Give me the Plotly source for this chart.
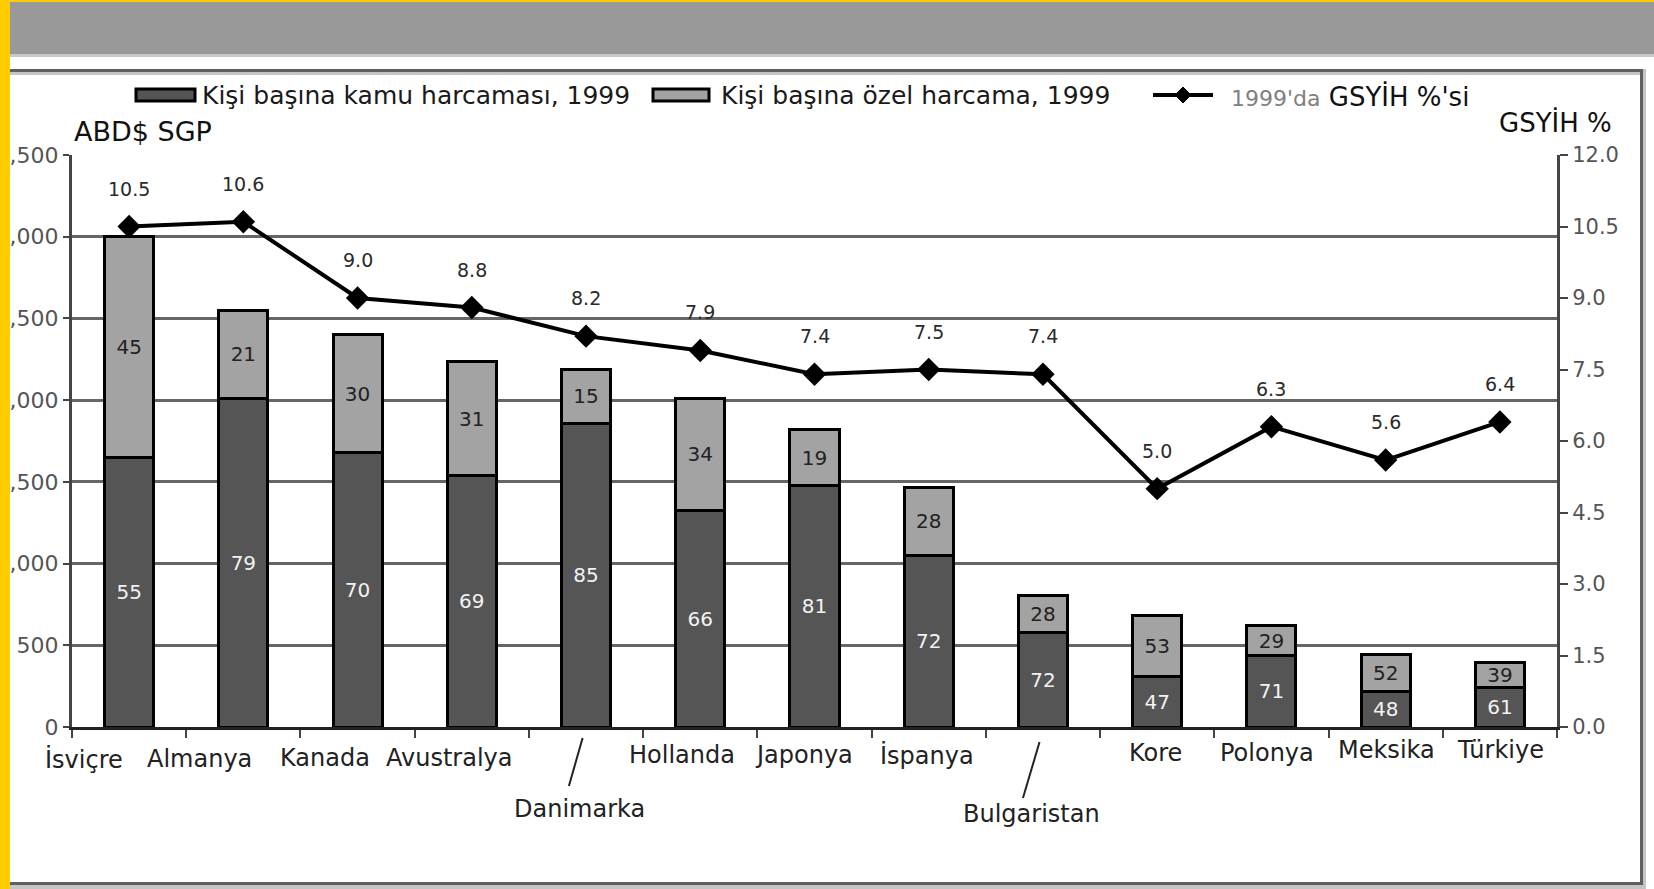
import plotly.graph_objects as go

# ---------------- data ----------------
countries = ["İsviçre", "Almanya", "Kanada", "Avustralya", "Danimarka", "Hollanda",
             "Japonya", "İspanya", "Bulgaristan", "Kore", "Polonya", "Meksika", "Türkiye"]
public_usd = [1650, 2010, 1680, 1540, 1860, 1325, 1475, 1050, 580, 310, 435, 215, 240]
private_usd = [1350, 540, 720, 695, 330, 685, 345, 415, 225, 375, 185, 230, 155]
public_share = [55, 79, 70, 69, 85, 66, 81, 72, 72, 47, 71, 48, 61]
private_share = [45, 21, 30, 31, 15, 34, 19, 28, 28, 53, 29, 52, 39]
gdp_share = [10.5, 10.6, 9.0, 8.8, 8.2, 7.9, 7.4, 7.5, 7.4, 5.0, 6.3, 5.6, 6.4]

left_ticks = [0, 500, 1000, 1500, 2000, 2500, 3000, 3500]
right_ticks = [0.0, 1.5, 3.0, 4.5, 6.0, 7.5, 9.0, 10.5, 12.0]

name_public = "Kişi başına kamu harcaması, 1999"
name_private = "Kişi başına özel harcama, 1999"
name_gdp = "1999'da GSYİH %'si"

# ---------------- styles / layout helpers ----------------
W, H = 1654, 889
L, R, T, B = 72, 97, 155, 162
PW, PH = W - L - R, H - T - B
FONT = "DejaVu Sans"


def px_x(px):
    return (px - L) / PW


def px_y(py):
    return (H - B - py) / PH


label_xshift = [-45, -44, -33, -22, -7, -18, -11, -2, -11, -2, -4, 1, 1]
label_yshift = [-32, -32, -31, -31, -82, -28, -28, -28, -87, -26, -26, -23, -23]

fig = go.Figure()

fig.add_trace(go.Bar(
    x=countries, y=public_usd, name=name_public,
    marker=dict(color="#555555", line=dict(color="#000000", width=3)),
    text=[str(v) for v in public_share], textposition="inside",
    insidetextanchor="middle", textangle=0,
    textfont=dict(family=FONT, size=20, color="#f2f2f2"),
    width=0.43, showlegend=False,
))
fig.add_trace(go.Bar(
    x=countries, y=private_usd, name=name_private,
    marker=dict(color="#a3a3a3", line=dict(color="#000000", width=3)),
    text=[str(v) for v in private_share], textposition="inside",
    insidetextanchor="middle", textangle=0,
    textfont=dict(family=FONT, size=20, color="#222222"),
    width=0.43, showlegend=False,
))
fig.add_trace(go.Scatter(
    x=countries, y=gdp_share, name=name_gdp, yaxis="y2",
    mode="lines+markers",
    line=dict(color="#000000", width=4),
    marker=dict(symbol="diamond", size=18, color="#000000"),
    showlegend=False,
))

annotations = []
# GDP value labels
for c, v in zip(countries, gdp_share):
    annotations.append(dict(x=c, y=v, xref="x", yref="y2", yshift=38,
                            text=f"{v:.1f}", showarrow=False,
                            font=dict(family=FONT, size=19, color="#2a2a2a")))
# category labels
for c, dx, dy in zip(countries, label_xshift, label_yshift):
    annotations.append(dict(x=c, y=0, xref="x", yref="paper", xshift=dx, yshift=dy,
                            yanchor="middle", text=c, showarrow=False,
                            font=dict(family=FONT, size=24, color="#222222")))
# axis titles
annotations.append(dict(x=px_x(72), y=px_y(131), xref="paper", yref="paper",
                        xanchor="left", yanchor="middle", text="ABD$ SGP", showarrow=False,
                        font=dict(family=FONT, size=27, color="#111111")))
annotations.append(dict(x=px_x(1614), y=px_y(123), xref="paper", yref="paper",
                        xanchor="right", yanchor="middle", text="GSYİH %", showarrow=False,
                        font=dict(family=FONT, size=26, color="#111111")))
# legend texts
annotations.append(dict(x=px_x(200), y=px_y(95), xref="paper", yref="paper",
                        xanchor="left", yanchor="middle", text=name_public, showarrow=False,
                        font=dict(family=FONT, size=25, color="#1a1a1a")))
annotations.append(dict(x=px_x(719), y=px_y(95), xref="paper", yref="paper",
                        xanchor="left", yanchor="middle", text=name_private, showarrow=False,
                        font=dict(family=FONT, size=25, color="#1a1a1a")))
annotations.append(dict(x=px_x(1229), y=px_y(97), xref="paper", yref="paper",
                        xanchor="left", yanchor="middle",
                        text="<span style='color:#808080;font-size:22px'>1999'da</span> GSYİH %'si",
                        showarrow=False,
                        font=dict(family=FONT, size=26, color="#111111")))

shapes = []


def rect(x0, y0, x1, y1, fill, layer="above", line_color=None, lw=0):
    shapes.append(dict(type="rect", xref="paper", yref="paper",
                       x0=px_x(x0), x1=px_x(x1), y0=px_y(y0), y1=px_y(y1),
                       fillcolor=fill, layer=layer,
                       line=dict(width=lw, color=line_color or fill)))


# frame decoration
rect(0, 2, W, 54, "#999999")
rect(0, 54, W, 57, "#c8c8c8")
rect(10, 69, 1643, 72, "#5f5f5f")
rect(10, 72, 1640, 75, "#c4c4c4")
rect(1640, 69, 1643, 885, "#5f5f5f")
rect(1643, 69, 1646, 888, "#c4c4c4")
rect(10, 882, 1643, 885, "#5f5f5f")
rect(10, 885, 1646, 889, "#c4c4c4")
rect(0, 0, 10, H, "#ffcc00")
rect(0, 0, W, 2, "#ffcc00")

# legend swatches
rect(136, 89, 195, 101, "#555555", line_color="#000000", lw=3)
rect(653, 89, 709, 101, "#a3a3a3", line_color="#000000", lw=3)
shapes.append(dict(type="line", xref="paper", yref="paper",
                   x0=px_x(1153), x1=px_x(1213), y0=px_y(95), y1=px_y(95),
                   line=dict(color="#000000", width=4)))
cx, cy, hw = 1183, 95, 8
shapes.append(dict(type="path", xref="paper", yref="paper", fillcolor="#000000",
                   line=dict(color="#000000", width=1),
                   path=(f"M {px_x(cx - hw)} {px_y(cy)} L {px_x(cx)} {px_y(cy - hw)} "
                         f"L {px_x(cx + hw)} {px_y(cy)} L {px_x(cx)} {px_y(cy + hw)} Z")))

# leader lines for lowered labels
shapes.append(dict(type="line", xref="x", yref="paper",
                   x0=4 - 0.03, x1=4 - 0.15, y0=px_y(738), y1=px_y(786),
                   line=dict(color="#222222", width=2)))
shapes.append(dict(type="line", xref="x", yref="paper",
                   x0=8 - 0.03, x1=8 - 0.175, y0=px_y(742), y1=px_y(798),
                   line=dict(color="#222222", width=2)))

fig.update_layout(
    width=W, height=H,
    margin=dict(l=L, r=R, t=T, b=B, autoexpand=False),
    paper_bgcolor="#ffffff", plot_bgcolor="#ffffff",
    barmode="stack", bargap=0.57,
    uniformtext=dict(minsize=19, mode="show"),
    font=dict(family=FONT, size=20, color="#333333"),
    xaxis=dict(type="category", range=[-0.5, 12.5], showticklabels=False,
               ticks="outside", tickson="boundaries", ticklen=8, tickwidth=2,
               tickcolor="#444444", showline=True, linecolor="#222222", linewidth=3,
               showgrid=False, zeroline=False),
    yaxis=dict(range=[0, 3500], tickvals=left_ticks,
               ticktext=[f"{v:,}" for v in left_ticks],
               ticks="outside", ticklen=6, tickwidth=2, tickcolor="#444444",
               showline=True, linecolor="#444444", linewidth=3,
               showgrid=True, gridcolor="#666666", gridwidth=3, zeroline=False,
               tickfont=dict(family=FONT, size=22, color="#555555")),
    yaxis2=dict(range=[0, 12], overlaying="y", side="right", tickvals=right_ticks,
                ticktext=[f"{v:.1f}" for v in right_ticks],
                ticks="outside", ticklen=8, tickwidth=2, tickcolor="#444444",
                showline=True, linecolor="#444444", linewidth=3,
                showgrid=False, zeroline=False,
                tickfont=dict(family=FONT, size=21, color="#555555")),
    annotations=annotations, shapes=shapes,
)

fig.write_html("out.html",
               config={"displayModeBar": False},
               post_script="document.body.style.margin='0';document.body.style.overflow='hidden';")
